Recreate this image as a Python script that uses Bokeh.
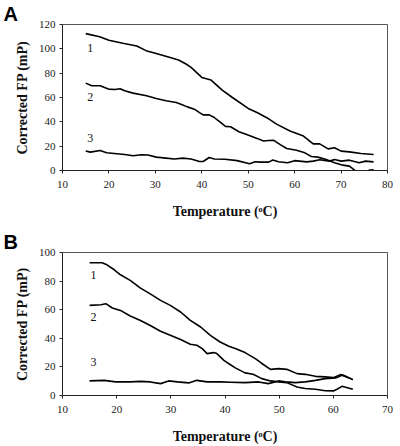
from bokeh.plotting import figure
from bokeh.layouts import column
from bokeh.models import Range1d, FixedTicker
from bokeh.core.properties import value
from bokeh.embed import file_html
from bokeh.resources import INLINE

# ---------------- Panel A data ----------------
a_x1 = [15, 18, 20, 23, 26, 28, 30, 33, 35, 36.6, 37.7, 40, 42, 44.4, 46.6, 50, 52, 54,
        56.2, 59, 61.9, 64, 65.4, 67.2, 68.6, 70, 71.8, 74.3, 77]
a_y1 = [112.5, 110, 107, 104.6, 102.4, 98.5, 96.3, 93, 90.8, 87.5, 84.8, 76.5, 74.3, 66,
        60, 51, 47.5, 43.4, 37.9, 32.4, 28.3, 21.9, 21.9, 17.8, 18.7, 15.9, 15.3, 14, 13.1]

a_x2 = [15, 16.3, 18.1, 19.9, 21.3, 22.4, 23.4, 25.2, 28.1, 30.2, 32.3, 34.5, 35.5, 36.9,
        38.4, 39.5, 40.3, 41.6, 42.7, 44.1, 45.1, 46.2, 48, 50.1, 51.9, 53.3, 54.4, 55.5,
        56.9, 58.3, 60.4, 62.2, 63.6, 65, 66.8, 68.6, 70.4, 71.8, 72.9, 74, 75.5, 76.2, 77]
a_y2 = [71.8, 69.6, 69.6, 66.9, 66.6, 67.2, 65.5, 63.6, 61.4, 59.2, 57.3, 55.9, 54.5, 52.3,
        50.4, 47.6, 45.7, 45.7, 43.5, 39.4, 36.3, 36, 31.9, 28.9, 26.4, 24.2, 24.6, 24.8,
        21.3, 18.1, 16.7, 14.5, 11.5, 11, 9, 6.3, 4.4, 3.6, 0.3, -1.5, -0.8, 0.4, 0.6]

a_x3 = [15, 16, 18.1, 19.5, 21.7, 23.4, 25.2, 27, 28.4, 30.2, 32.3, 34.1, 35.9, 37.7, 39.5,
        40.3, 41.6, 42.7, 45, 47.6, 50.3, 51.5, 52.6, 54.4, 55.3, 56.5, 58.5, 60, 62.6, 64,
        65.4, 67.5, 68.6, 70, 71.8, 73.9, 75.3, 77]
a_y3 = [16, 15.1, 16.5, 14.6, 13.8, 13.2, 12.1, 12.9, 12.7, 11, 10.2, 9.4, 10.2, 9.4, 7.4,
        7.4, 10.7, 9.4, 9.2, 8.1, 5.6, 7.2, 6.9, 6.9, 8.6, 7.2, 6.4, 8.1, 7.1, 7.7,
        8.8, 7.7, 9.0, 7.7, 8.5, 6.3, 7.7, 7.1]

a_label_x = [16, 16, 16]
a_label_y = [101, 60.7, 26.9]
a_label_text = ["1", "2", "3"]
a_xticks = [10, 20, 30, 40, 50, 60, 70, 80]
a_yticks = [0, 20, 40, 60, 80, 100, 120]

# ---------------- Panel B data ----------------
b_x1 = [15, 17.3, 18.2, 19.5, 20.7, 22.5, 24.4, 26.2, 28.1, 29.9, 31.8, 33.6, 35.5, 37.3,
        39.1, 40.7, 41.9, 43.7, 45.6, 46.8, 48.4, 49.9, 51.4, 53.3, 54.8, 56.7, 58.5, 60,
        61.3, 61.9, 63.6]
b_y1 = [92.8, 92.8, 91.4, 88.1, 84.4, 80.5, 75.1, 71.1, 66.5, 63, 58.4, 52.5, 47.9, 42.1,
        37.4, 34.5, 32.8, 30, 25.8, 22.4, 18.3, 18.8, 18.3, 15.3, 14.8, 13.4, 13, 12.5,
        14.6, 14.1, 11.1]

b_x2 = [15, 17.1, 18, 19.2, 20.7, 22.5, 24.4, 26.2, 28.1, 29.9, 31.8, 33.6, 34.8, 35.8,
        36.7, 37.9, 38.5, 39.8, 41, 41.9, 43.7, 45.2, 46.8, 48.4, 49.9, 51.4, 53.3, 54.8,
        56.7, 58.5, 60, 60.6, 61.6, 63.6]
b_y2 = [63, 63.5, 64.2, 61.2, 59.5, 55.6, 52.5, 49, 44.9, 42.1, 39.1, 35.8, 35.1, 32.8,
        29.3, 30, 29.3, 24.6, 21.5, 19.3, 15.8, 14.8, 11.8, 10.2, 9.5, 9, 6, 4.9,
        4.4, 3.3, 3.2, 4.2, 6.4, 4.4]

b_x3 = [15, 17.7, 19.8, 22.5, 24.4, 26.2, 28.1, 29.6, 31.2, 33.3, 34.8, 36.7, 39.1, 41,
        43.7, 46.2, 48, 49.9, 51.1, 53, 54.8, 56.7, 58.5, 60.4, 61.6, 63.6]
b_y3 = [10.2, 10.6, 9.5, 9.5, 9.9, 9.5, 8.3, 10.2, 9.5, 8.8, 10.6, 9.5, 9.5, 9.3,
        9, 9.5, 8.3, 10.2, 9.5, 9, 9.5, 10.6, 11.8, 12.3, 14.1, 11.1]

b_label_x = [15.7, 15.7, 15.7]
b_label_y = [84.6, 54.9, 23.5]
b_label_text = ["1", "2", "3"]
b_xticks = [10, 20, 30, 40, 50, 60, 70]
b_yticks = [0, 20, 40, 60, 80, 100]

SERIF = "Liberation Serif"


def make_panel(letter, h, bt, bb, br, xr, yr, xticks, yticks, series,
               lx, ly, lt):
    p = figure(width=400, height=h, x_range=Range1d(*xr), y_range=Range1d(*yr),
               output_backend="svg", toolbar_location=None,
               min_border_left=62, min_border_right=br,
               min_border_top=bt, min_border_bottom=bb)
    p.background_fill_color = "white"
    p.border_fill_color = "white"
    p.outline_line_color = "#555555"
    p.outline_line_width = 1
    p.xgrid.grid_line_color = None
    p.ygrid.grid_line_color = None
    # panel letter as the figure title
    p.title.text = letter
    p.title.align = "left"
    p.title.offset = -59
    p.title.standoff = 0
    p.title.text_font = "Liberation Sans"
    p.title.text_font_style = "bold"
    p.title.text_font_size = "20px"
    p.title.text_color = "black"
    for ax, ticks in ((p.xaxis, xticks), (p.yaxis, yticks)):
        ax.ticker = FixedTicker(ticks=ticks)
        ax.major_tick_out = 3
        ax.major_tick_in = 0
        ax.minor_tick_line_color = None
        ax.axis_line_color = "#222222"
        ax.major_tick_line_color = "#222222"
        ax.major_label_text_font = SERIF
        ax.major_label_text_font_size = "11px"
        ax.major_label_text_color = "#222222"
        ax.axis_label_text_font = SERIF
        ax.axis_label_text_font_style = "bold"
        ax.axis_label_text_font_size = "14px"
        ax.axis_label_text_color = "#111111"
    p.xaxis.major_label_standoff = 7
    p.yaxis.major_label_standoff = 4
    p.xaxis.axis_label = "Temperature (\u1d52C)"
    p.yaxis.axis_label = "Corrected FP (mP)"
    p.xaxis.axis_label_standoff = 13
    p.yaxis.axis_label_standoff = 6
    for sx, sy in series:
        p.line(sx, sy, line_color="black", line_width=1.6)
    p.text(x=lx, y=ly, text=lt, text_font=value(SERIF), text_font_size="12px",
           text_align="center", text_baseline="middle", text_color="#111111")
    return p


pA = make_panel("A", 226, 24, 56, 10, (10, 80), (0, 120), a_xticks, a_yticks,
                [(a_x1, a_y1), (a_x2, a_y2), (a_x3, a_y3)],
                a_label_x, a_label_y, a_label_text)
pB = make_panel("B", 220, 26, 50, 13, (10, 70), (0, 100), b_xticks, b_yticks,
                [(b_x1, b_y1), (b_x2, b_y2), (b_x3, b_y3)],
                b_label_x, b_label_y, b_label_text)

layout = column(pA, pB, spacing=0)
open("out.html", "w").write(file_html(layout, INLINE))
